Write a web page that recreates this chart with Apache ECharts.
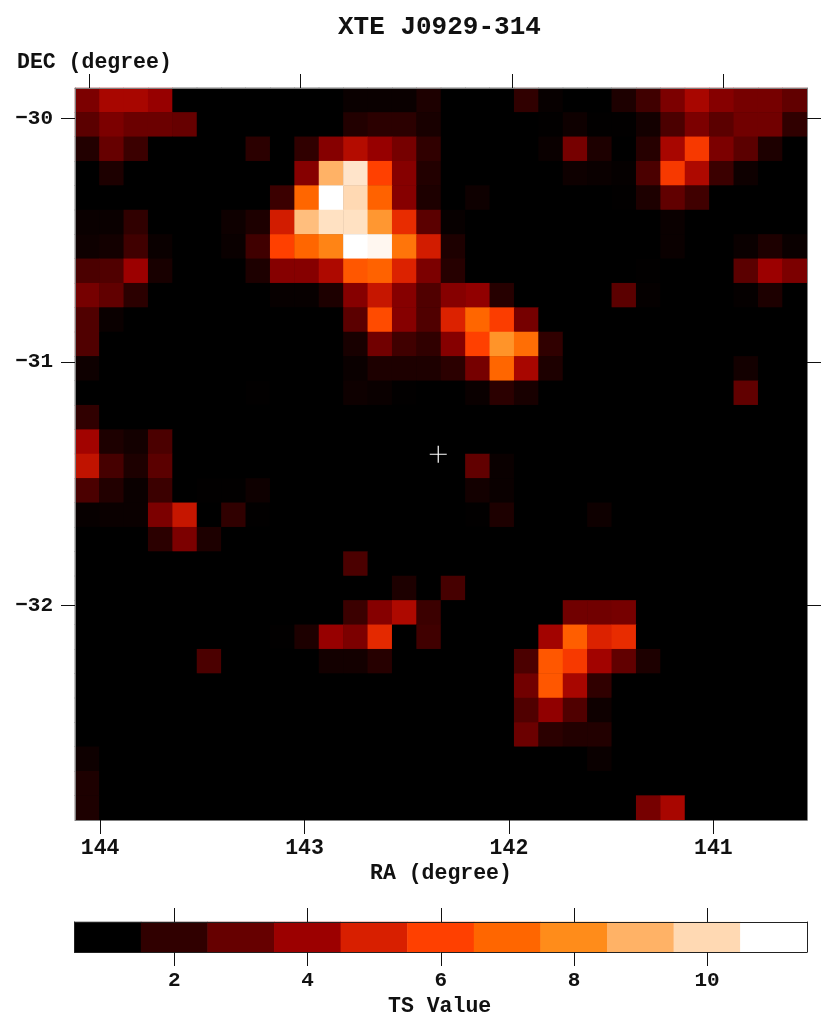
<!DOCTYPE html>
<html><head><meta charset="utf-8">
<style>html,body{margin:0;padding:0;background:#fff}#c{width:830px;height:1030px}</style>
<script src="https://cdn.jsdelivr.net/npm/echarts@6/dist/echarts.min.js"></script>
</head><body><div id="c"></div>
<script>
const titleText = 'XTE J0929-314';
const raName = 'RA (degree)';
const decName = 'DEC (degree)';
const barName = 'TS Value';
const raTicks = [144, 143, 142, 141];
const decTicks = [-30, -31, -32];
const barCategories = [1,2,3,4,5,6,7,8,9,10,11];
const barColors = ['#000000','#300000','#660000','#9c0000','#d81f00','#ff4000','#ff6600','#ff8c1a','#ffb266','#ffd9b3','#ffffff'];
const sourcePosition = [142.346, -31.379];
const tsRows = [
[3.4,4.2,4.2,3.9,1, 1,1,1,1,1, 1,1.2,1.2,1.2,1.6, 1,1,1,2,1.15, 1,1,1.6,2.3,3.4, 4.2,3.6,3.3,3.3,2.9],
[2.8,3.4,3.1,3.1,3, 1,1,1,1,1, 1,1.7,1.9,1.9,1.5, 1,1,1,1,1.05, 1.3,1.05,1.05,1.4,2.5, 3.4,2.8,3.2,3.2,2],
[1.7,3,2.2,1,1, 1,1,1.9,1,2, 3.6,4.4,3.9,3.3,2, 1,1,1,1,1.2, 3.3,1.6,1,1.8,4.2, 5.8,3.4,2.8,1.6,1],
[1,1.6,1,1,1, 1,1,1,1,3.6, 9,10.3,6,3.6,1.7, 1,1,1,1,1, 1.3,1.2,1.1,2.5,5.8, 4.3,2.2,1.3,1,1],
[1,1,1,1,1, 1,1,1,2.2,7, 11,10,6.9,3.6,1.6, 1,1.3,1,1,1, 1,1,1.05,1.6,2.9, 2.3,1,1,1,1],
[1.2,1.2,2,1,1, 1,1.3,1.6,4.9,9.3, 10.2,10.2,8.3,5.4,2.8, 1.15,1,1,1,1, 1,1,1,1,1.2, 1,1,1,1,1],
[1.3,1.4,2.3,1.2,1, 1,1.2,2.3,6,7, 7.8,11,10.8,7.4,4.9, 1.6,1,1,1,1, 1,1,1,1,1.2, 1,1,1.2,1.6,1.2],
[2.5,2.6,4,1.5,1, 1,1,1.6,3.6,3.6, 4.3,6.6,6.9,5.1,3.4, 1.8,1,1,1,1, 1,1,1,1.05,1, 1,1,2.8,4,3.4],
[3.3,2.9,1.9,1,1, 1,1,1,1.15,1.15, 1.6,3.6,4.7,3.6,2.6, 3.6,3.8,1.8,1,1, 1,1,2.8,1.1,1, 1,1,1.1,1.6,1],
[2.6,1.2,1,1,1, 1,1,1,1,1, 1,2.8,6.3,3.6,2.6, 5.1,7,5.9,3.3,1, 1,1,1,1,1, 1,1,1,1,1],
[2.6,1,1,1,1, 1,1,1,1,1, 1,1.5,3.2,2.3,2, 3.6,6,8.2,7.2,2, 1,1,1,1,1, 1,1,1,1,1],
[1.3,1,1,1,1, 1,1,1,1,1, 1,1.2,1.6,1.6,1.6, 1.9,3.3,7,4.2,1.6, 1,1,1,1,1, 1,1,1.4,1,1],
[1,1,1,1,1, 1,1,1.05,1,1, 1,1.3,1.2,1.05,1, 1,1.2,1.9,1.5,1, 1,1,1,1,1, 1,1,2.9,1,1],
[2,1,1,1,1, 1,1,1,1,1, 1,1,1,1,1, 1,1,1,1,1, 1,1,1,1,1, 1,1,1,1,1],
[4.1,1.6,1.4,2.5,1, 1,1,1,1,1, 1,1,1,1,1, 1,1,1,1,1, 1,1,1,1,1, 1,1,1,1,1],
[4.6,2.4,1.6,2.8,1, 1,1,1,1,1, 1,1,1,1,1, 1,2.9,1.2,1,1, 1,1,1,1,1, 1,1,1,1,1],
[2.5,1.7,1.2,2.2,1, 1.05,1.05,1.3,1,1, 1,1,1,1,1, 1,1.4,1.2,1,1, 1,1,1,1,1, 1,1,1,1,1],
[1.15,1.2,1.2,3.4,4.7, 1,2,1.05,1,1, 1,1,1,1,1, 1,1.05,1.6,1,1, 1,1.3,1,1,1, 1,1,1,1,1],
[1,1,1,1.9,3.4, 1.6,1,1,1,1, 1,1,1,1,1, 1,1,1,1,1, 1,1,1,1,1, 1,1,1,1,1],
[1,1,1,1,1, 1,1,1,1,1, 1,2.5,1,1,1, 1,1,1,1,1, 1,1,1,1,1, 1,1,1,1,1],
[1,1,1,1,1, 1,1,1,1,1, 1,1,1,1.6,1, 2.4,1,1,1,1, 1,1,1,1,1, 1,1,1,1,1],
[1,1,1,1,1, 1,1,1,1,1, 1,2.2,3.6,4.3,2.2, 1,1,1,1,1, 3.2,3.2,3.3,1,1, 1,1,1,1,1],
[1,1,1,1,1, 1,1,1,1.05,1.6, 3.9,3.4,5.3,1,2.3, 1,1,1,1,4.1, 6.8,5.1,5.4,1,1, 1,1,1,1,1],
[1,1,1,1,1, 2.5,1,1,1,1, 1.4,1.4,1.8,1,1, 1,1,1,2.5,6.6, 5.8,4.1,2.9,1.6,1, 1,1,1,1,1],
[1,1,1,1,1, 1,1,1,1,1, 1,1,1,1,1, 1,1,1,3.2,6.6, 4.2,2,1,1,1, 1,1,1,1,1],
[1,1,1,1,1, 1,1,1,1,1, 1,1,1,1,1, 1,1,1,2.6,3.8, 2.6,1.3,1,1,1, 1,1,1,1,1],
[1,1,1,1,1, 1,1,1,1,1, 1,1,1,1,1, 1,1,1,3.1,1.9, 1.7,1.7,1,1,1, 1,1,1,1,1],
[1.3,1,1,1,1, 1,1,1,1,1, 1,1,1,1,1, 1,1,1,1,1, 1,1.2,1,1,1, 1,1,1,1,1],
[1.6,1,1,1,1, 1,1,1,1,1, 1,1,1,1,1, 1,1,1,1,1, 1,1,1,1,1, 1,1,1,1,1],
[1.6,1,1,1,1, 1,1,1,1,1, 1,1,1,1,1, 1,1,1,1,1, 1,1,1,3.3,4.2, 1,1,1,1,1]
];

const FONT = '"Liberation Mono", monospace';
const textBold = {fontFamily: FONT, fontWeight: 'bold', color: '#111'};
const frame = {show: true, onZero: false, lineStyle: {color: '#808080', width: 1}};
const tick = {show: true, length: 14, lineStyle: {color: '#111', width: 1}};

const colIdx = tsRows[0].map((_, i) => String(i));
const rowIdx = tsRows.map((_, i) => String(i));
const heatData = [];
tsRows.forEach((row, r) => row.forEach((v, c) => heatData.push([c, r, v])));
const barData = barCategories.map((v, i) => [i, 0, v]);
const evenOnly = (index) => barCategories[index] % 2 === 0;

function raAxis(position, min, max, labels) {
  return {type: 'value', gridIndex: 1, position, min, max, inverse: true, z: 5, splitLine: {show: false},
    axisLine: frame,
    axisTick: Object.assign({customValues: raTicks}, tick),
    axisLabel: labels
      ? Object.assign({show: true, customValues: raTicks, fontSize: 21.5, margin: 18, formatter: v => String(v)}, textBold)
      : {show: false}};
}
function decAxis(position, labels) {
  return {type: 'value', gridIndex: 1, position, min: -32.882, max: -29.874, z: 5, splitLine: {show: false},
    axisLine: frame,
    axisTick: Object.assign({customValues: decTicks}, tick),
    axisLabel: labels
      ? Object.assign({show: true, customValues: decTicks, fontSize: 21, margin: 22, formatter: v => String(v).replace('-', '\u2212')}, textBold)
      : {show: false}};
}
function barAxis(position, labels) {
  return {type: 'category', gridIndex: 2, position, data: barCategories.map(String), z: 5,
    axisLine: {show: true, onZero: false, lineStyle: {color: '#222', width: 1}},
    axisTick: Object.assign({alignWithLabel: true, interval: evenOnly}, tick),
    axisLabel: labels
      ? Object.assign({show: true, interval: evenOnly, fontSize: 21, margin: 18}, textBold)
      : {show: false},
    splitLine: {show: false}};
}

const chart = echarts.init(document.getElementById('c'), null, {renderer: 'canvas'});
chart.setOption({
  animation: false,
  backgroundColor: '#ffffff',
  title: [
    {text: titleText, left: 333, top: 9, textStyle: Object.assign({fontSize: 26}, textBold)},
    {text: decName, left: 12, top: 47, textStyle: Object.assign({fontSize: 21.5}, textBold)},
    {text: raName, left: 365, top: 858, textStyle: Object.assign({fontSize: 21.5}, textBold)},
    {text: barName, left: 383, top: 991, textStyle: Object.assign({fontSize: 21.5}, textBold)}
  ],
  grid: [
    {left: 75, top: 88, width: 732, height: 732, show: true, backgroundColor: '#000000', borderWidth: 0},
    {left: 75, top: 88, width: 732, height: 732},
    {left: 74.5, top: 922, width: 732.5, height: 30}
  ],
  xAxis: [
    {type: 'category', gridIndex: 0, data: colIdx, show: false},
    raAxis('bottom', 140.542, 144.123, true),
    raAxis('top', 140.606, 144.065, false),
    barAxis('bottom', true),
    barAxis('top', false)
  ],
  yAxis: [
    {type: 'category', gridIndex: 0, data: rowIdx, inverse: true, show: false},
    decAxis('left', true),
    decAxis('right', false),
    {type: 'category', gridIndex: 2, data: [''], position: 'left', z: 5, axisTick: {show: false}, axisLabel: {show: false},
      axisLine: {show: true, onZero: false, lineStyle: {color: '#222', width: 1}}},
    {type: 'category', gridIndex: 2, data: [''], position: 'right', z: 5, axisTick: {show: false}, axisLabel: {show: false},
      axisLine: {show: true, onZero: false, lineStyle: {color: '#222', width: 1}}}
  ],
  visualMap: {type: 'continuous', show: false, min: 1, max: 11, seriesIndex: [0, 1], dimension: 2, inRange: {color: barColors}},
  series: [
    {type: 'heatmap', xAxisIndex: 0, yAxisIndex: 0, data: heatData, progressive: 0, emphasis: {disabled: true}},
    {type: 'heatmap', xAxisIndex: 3, yAxisIndex: 3, data: barData, progressive: 0, emphasis: {disabled: true}},
    {type: 'scatter', xAxisIndex: 1, yAxisIndex: 1, data: [sourcePosition], z: 10, symbol: 'path://M0,8H16M8,0V16', symbolSize: 17,
      itemStyle: {color: 'rgba(0,0,0,0)', borderColor: '#ffffff', borderWidth: 1.2, opacity: 1}}
  ]
});
</script></body></html>
